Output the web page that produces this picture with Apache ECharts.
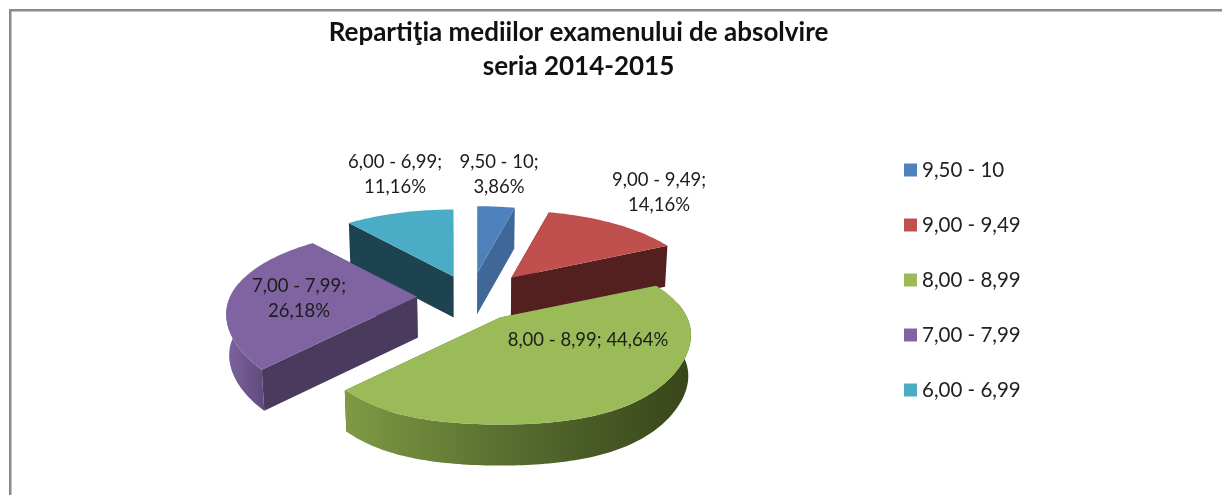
<!DOCTYPE html>
<html>
<head>
<meta charset="utf-8">
<style>html,body{margin:0;padding:0;background:#fff}#c{width:1222px;height:495px}</style>
<script src="https://cdn.jsdelivr.net/npm/echarts@6/dist/echarts.min.js"></script>
</head>
<body>
<div id="c"></div>
<script>
const categories = ['9,50 - 10', '9,00 - 9,49', '8,00 - 8,99', '7,00 - 7,99', '6,00 - 6,99'];
const percents = [3.86, 14.16, 44.64, 26.18, 11.16];
const titleLines = 'Repartiţia mediilor examenului de absolvire\nseria 2014-2015';

const topColors = ['#4f81bd', '#c0504d', '#9bbb59', '#8064a2', '#4bacc6'];
const wallColors = ['#3f6797', '#54201f', '#4a5f28', '#4a3a5e', '#1e4350'];
const rimStops = [
  ['#3f6797', '#3f6797'],
  ['#54201f', '#54201f'],
  ['#7e9a45', '#566b2e', '#384519'],
  ['#7f64a0', '#5f4a7c'],
  ['#1e4350', '#1e4350']
];
const labelBreak = [true, true, false, true, true];
const labelAt = [[499, 175], [659, 193], [588, 340], [299, 299], [395, 175]];
const apexNudge = [[1, 1], [9, 0], [1, 0], [-2, 1], [1, 3]];

const FONT = 'Lato, Carlito, Calibri, sans-serif';
const G = { cx: 470, cy: 297, ex: 51, ey: 25, rx: 187, ry: 82.4, kx: 0.2, ky: 0.23, boost: 0.06, depth: 41, shrink: 0.988 };

const total = percents.reduce((a, b) => a + b, 0);
const starts = [];
percents.reduce((acc, v, i) => { starts[i] = acc; return acc + v; }, 0);
const toAngle = p => (p / total) * 2 * Math.PI;

function rimPoint(apex, theta) {
  const u = Math.sin(theta), v = -Math.cos(theta);
  const b = v > 0 ? 1 + G.boost * Math.pow(2 * u * v, 2) : 1;
  return [apex[0] + G.rx * u / (1 - G.kx * v), apex[1] + b * G.ry * v / (1 - G.ky * v)];
}
function lower(p) {
  return [G.cx + (p[0] - G.cx) * G.shrink, p[1] + G.depth];
}
function arcPoints(apex, a0, a1) {
  const n = Math.max(2, Math.ceil((a1 - a0) / 0.02));
  const pts = [];
  for (let i = 0; i <= n; i++) pts.push(rimPoint(apex, a0 + (a1 - a0) * i / n));
  return pts;
}
function poly(points, fill, z2) {
  return { type: 'polygon', shape: { points }, style: { fill }, z2 };
}

function makeRender(i) {
  return function () {
    const a0 = toAngle(starts[i]);
    const a1 = toAngle(starts[i] + percents[i]);
    const mid = (a0 + a1) / 2;
    const apex = [
      G.cx + G.ex * Math.sin(mid) + apexNudge[i][0],
      G.cy - G.ey * Math.cos(mid) + apexNudge[i][1]
    ];
    const arc = arcPoints(apex, a0, a1);
    const first = arc[0], last = arc[arc.length - 1];
    const children = [];

    children.push(poly([apex, first, lower(first), lower(apex)], wallColors[i], 1));
    children.push(poly([apex, last, lower(last), lower(apex)], wallColors[i], 1));

    const vis0 = Math.max(a0, 80 * Math.PI / 180);
    const vis1 = Math.min(a1, 280 * Math.PI / 180);
    if (vis1 > vis0) {
      const rim = arcPoints(apex, vis0, vis1);
      const stops = rimStops[i];
      const ordered = stops.map((color, k) => ({ offset: stops.length > 1 ? k / (stops.length - 1) : 0, color }));
      children.push(poly(rim.concat(rim.slice().reverse().map(lower)), {
        type: 'linear', x: 0, y: 0, x2: 1, y2: 0, colorStops: ordered
      }, 2));
    }

    children.push(poly([apex].concat(arc), topColors[i], 3));

    const pct = percents[i].toFixed(2).replace('.', ',') + '%';
    children.push({
      type: 'text',
      z2: 10,
      style: {
        x: labelAt[i][0], y: labelAt[i][1],
        text: categories[i] + ';' + (labelBreak[i] ? '\n' : ' ') + pct,
        fill: '#1c1c1c', font: '18.5px ' + FONT,
        align: 'center', verticalAlign: 'middle', lineHeight: 25
      }
    });
    return { type: 'group', children };
  };
}

const chart = echarts.init(document.getElementById('c'), null, { renderer: 'canvas' });
chart.setOption({
  animation: false,
  backgroundColor: '#ffffff',
  title: {
    text: titleLines, left: 573.5, top: 11, textAlign: 'center',
    textStyle: { fontFamily: FONT, fontSize: 26, fontWeight: 'bold', color: '#111', lineHeight: 34 }
  },
  legend: {
    orient: 'vertical', left: 899, top: 154, itemGap: 33, itemWidth: 13, itemHeight: 13,
    icon: 'rect', data: categories,
    textStyle: { fontFamily: FONT, fontSize: 20.5, color: '#222', lineHeight: 22 }
  },
  graphic: [
    { type: 'rect', shape: { x: 9, y: 9, width: 1213, height: 2.5 }, style: { fill: '#8a8a8a' }, silent: true },
    { type: 'rect', shape: { x: 9, y: 9, width: 2.5, height: 486 }, style: { fill: '#8a8a8a' }, silent: true }
  ],
  series: categories.map((name, i) => ({
    type: 'custom', name, coordinateSystem: 'none',
    itemStyle: { color: topColors[i] },
    data: [percents[i]],
    renderItem: makeRender(i),
    silent: true
  }))
});
</script>
</body>
</html>
